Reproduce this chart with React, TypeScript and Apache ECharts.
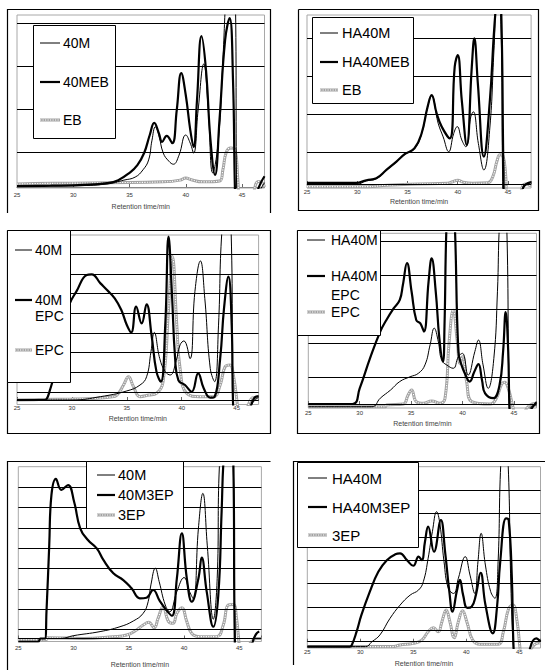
import React, { useEffect, useRef } from "react";
import * as echarts from "echarts";

type Pt = [number, number];

// ---- axis ----
const xTicks = [25, 30, 35, 40, 45];
const xAxisName = "Retention time/min";

// ---- Panel 1 : 40M / 40MEB / EB ----
const p1_40M: Pt[] = [[25,0.02],[30,0.03],[33,0.07],[34.5,0.16],[35.5,0.23],[36.2,0.4],[36.7,0.63],[37.0,1.09],[37.3,1.4],[37.6,1.21],[38.0,0.79],[38.5,0.6],[38.9,0.53],[39.4,0.74],[40.0,1.21],[40.4,1.02],[40.7,0.79],[41.1,1.79],[41.6,2.86],[42.0,1.79],[42.4,0.33],[42.9,1.09],[43.3,2.95],[43.6,4.6],[44.0,6],[44.4,4.6],[44.55,-0.5],[45,-1.5],[45.8,-1.5],[46.3,-0.3],[47,0.1]];
const p1_40MEB: Pt[] = [[25,0.02],[28,0.03],[31,0.05],[33,0.09],[34,0.16],[35,0.33],[35.7,0.51],[36.3,0.79],[36.8,1.21],[37.2,1.49],[37.6,1.26],[37.9,1.05],[38.3,1.19],[38.8,1.02],[39.2,1.79],[39.6,2.65],[40.0,2.14],[40.4,1.33],[40.7,0.93],[41.0,2.02],[41.4,3.51],[41.8,2.72],[42.2,1.09],[42.6,0.28],[43.0,1.56],[43.5,3.42],[43.9,3.93],[44.2,2.49],[44.4,-0.3],[44.6,-1],[45.5,-1],[46.1,-0.4],[46.5,0.0],[47,0.25]];
const p1_EB: Pt[] = [[25,0.07],[26.5,0.08],[30,0.09],[33,0.1],[38,0.12],[39.5,0.16],[40,0.21],[40.5,0.17],[41.5,0.12],[43,0.14],[43.3,0.4],[43.6,0.81],[44.0,0.91],[44.4,0.86],[44.6,0.28],[44.8,-0.5],[45.2,-1.5],[45.8,-0.6],[46.2,0.05],[46.5,0.13],[46.8,0.1],[47,0.0]];
const p1Gridlines = [0.81, 1.81, 2.81, 3.81];

// ---- Panel 2 : HA40M / HA40MEB / EB ----
const p2_HA40M: Pt[] = [[25,0.0],[30,0.0],[30.9,0.08],[31.9,0.14],[32.9,0.36],[33.9,0.58],[34.75,0.78],[35.7,0.93],[36.4,1.32],[37.0,2.02],[37.4,2.32],[38.05,1.6],[38.55,1.24],[39.1,0.85],[39.6,1.33],[39.95,1.51],[40.4,1.16],[40.8,0.98],[41.3,1.77],[41.55,1.9],[42.05,1.07],[42.6,0.37],[43.2,1.5],[43.6,3.5],[43.95,5.2],[44.3,4.2],[44.5,-0.3],[44.7,-1],[47.3,-1]];
const p2_HA40MEB: Pt[] = [[25,0.03],[29.9,0.03],[30.9,0.1],[31.9,0.15],[32.9,0.37],[33.9,0.59],[34.75,0.79],[35.7,0.94],[36.4,1.33],[37.0,2.03],[37.4,2.34],[37.9,1.86],[38.4,1.51],[39.2,1.2],[39.7,3.09],[40.0,3.39],[40.4,2.21],[40.9,1.03],[41.4,3.09],[41.65,3.83],[42.0,2.65],[42.6,0.72],[43.2,2.21],[43.6,3.97],[43.85,4.8],[44.1,5.3],[44.35,4.3],[44.55,0.3],[44.7,-1],[46,-1],[46.5,-0.1],[47.3,0.05]];
const p2_EB: Pt[] = [[25,-0.07],[31,-0.07],[33,-0.03],[36,0.0],[39,0.02],[39.5,0.06],[40,0.1],[40.5,0.05],[41.5,0.02],[43,0.03],[43.5,0.2],[43.9,0.6],[44.2,0.77],[44.5,0.74],[44.75,0.3],[44.95,-0.5],[45.5,-1],[46.2,-0.3],[46.7,0.0],[47.3,-0.05]];
const p2Gridlines = [0.84, 1.84, 2.84, 3.84];

// ---- Panel 3 : 40M / 40M EPC / EPC ----
const p3_40M: Pt[] = [[25,0.0],[30,0.0],[32.6,0.17],[35.0,0.46],[36.2,0.76],[36.8,1.18],[37.2,2.45],[37.5,3.43],[38.0,2.1],[38.5,1.44],[38.95,1.27],[39.5,2.0],[39.85,2.8],[40.2,3.0],[40.75,2.1],[41.2,5.5],[41.7,7.06],[42.1,5.16],[42.6,1.6],[43.0,0.93],[43.35,3.8],[43.65,8.5],[44.1,10.5],[44.5,8.5],[44.7,-0.6],[45,-1.5],[45.9,-1.5],[46.3,-0.3],[47,0.15]];
const p3_40MEPC: Pt[] = [[25,0.0],[27.5,0.0],[27.7,0.05],[28.0,0.5],[28.5,1.5],[29.0,2.9],[29.4,4.1],[29.8,4.9],[30.4,5.5],[31.35,6.35],[31.8,6.38],[32.6,5.92],[33.2,5.58],[33.9,5.16],[34.5,4.57],[35.0,3.81],[35.4,3.43],[35.85,4.74],[36.35,3.89],[36.8,4.86],[37.25,3.3],[37.7,1.44],[38.1,0.93],[38.5,3.8],[38.8,8.3],[39.1,5.5],[39.4,2.1],[39.7,1.0],[40.3,0.76],[40.9,0.42],[41.5,1.35],[42.0,0.6],[42.6,0.12],[43.0,0.17],[43.5,2.1],[43.85,4.65],[44.25,6.26],[44.55,3.8],[44.7,-0.6],[45,-1.5],[45.8,-1.5],[46.2,-0.5],[46.6,0.1],[47,0.2]];
const p3_EPC: Pt[] = [[25,0.0],[27,0.02],[30,0.05],[32,0.08],[33.5,0.15],[34.1,0.25],[34.7,0.76],[35.15,1.18],[35.6,0.68],[36.2,0.17],[37.0,0.25],[37.7,0.34],[38.3,0.93],[38.8,4.6],[39.15,7.28],[39.55,3.8],[39.85,1.6],[40.45,0.34],[41.65,0.17],[42.9,0.17],[43.5,0.76],[43.95,1.69],[44.4,1.78],[44.7,1.27],[45.07,-0.25],[45.3,-1.5],[45.7,-1],[46.1,-0.2],[46.5,0.12],[47,0.12]];
const p3Gridlines = [0.4, 1.4, 2.4, 3.4, 4.4, 5.4, 6.4, 7.4];

// ---- Panel 4 : HA40M / HA40M EPC / EPC ----
const p4_HA40M: Pt[] = [[25,-0.08],[31.2,-0.08],[32.0,0.17],[33.0,0.41],[33.9,0.66],[34.9,0.8],[35.7,0.9],[36.35,1.15],[36.85,1.74],[37.25,2.23],[37.65,1.83],[37.97,1.29],[38.45,1.15],[39.1,1.05],[39.6,1.39],[40.0,1.49],[40.55,0.85],[41.2,1.54],[41.55,1.88],[42.0,1.15],[42.5,0.46],[43.05,1.34],[43.4,3.3],[43.6,5.3],[43.95,6.5],[44.3,5.3],[44.55,-0.3],[44.8,-1.5],[46,-1.5],[46.6,-0.1],[47.2,-0.05]];
const p4_HA40MEPC: Pt[] = [[25,0.0],[29.3,0.0],[30.0,0.46],[31.0,1.34],[32.0,2.13],[32.6,2.47],[33.3,2.81],[33.9,3.06],[34.2,3.5],[34.6,4.14],[35.05,3.3],[35.5,2.47],[35.9,2.37],[36.25,2.13],[36.7,3.6],[37.0,4.28],[37.4,3.3],[37.75,1.93],[38.1,1.25],[38.25,2.3],[38.45,5.3],[38.85,7.5],[39.25,5.3],[39.6,1.54],[39.9,1.15],[40.3,0.85],[40.7,0.66],[41.15,0.95],[41.55,1.17],[41.9,0.7],[42.2,0.31],[43.0,0.17],[43.6,0.55],[43.95,1.54],[44.2,2.7],[44.45,1.54],[44.6,-0.25],[45,-1.5],[46,-1.5],[46.5,-0.3],[47.2,0.05]];
const p4_EPC: Pt[] = [[25,-0.08],[32.5,-0.08],[32.6,-0.03],[34.25,0.0],[34.7,0.26],[35.05,0.41],[35.5,0.07],[36.2,0.02],[37.0,0.09],[37.8,0.02],[38.3,0.17],[38.7,1.83],[39.1,2.76],[39.5,1.83],[39.75,1.2],[40.0,1.39],[40.4,0.66],[40.9,0.07],[42.7,0.0],[43.3,0.17],[43.8,0.58],[44.1,0.64],[44.45,0.46],[44.9,-0.08],[45.3,-0.6],[45.9,-0.3],[46.5,-0.05],[47.2,0.02]];
const p4Gridlines = [0.8, 1.8, 2.8, 3.8, 4.8];

// ---- Panel 5 : 40M / 40M3EP / 3EP ----
const p5_40M: Pt[] = [[25,0.0],[28.8,0.0],[30.0,0.14],[32.4,0.34],[34.2,0.58],[35.4,0.86],[36.3,1.24],[36.75,1.81],[37.0,2.64],[37.4,3.46],[37.75,2.8],[38.3,1.65],[38.7,1.32],[39.35,2.31],[40.0,3.0],[40.5,2.31],[40.85,1.95],[41.3,5.43],[41.7,7.15],[42.1,4.6],[42.65,0.95],[43.0,2.96],[43.2,8.5],[43.8,12],[44.45,8.5],[44.65,-0.5],[45,-1.5],[47,-1.5]];
const p5_40M3EP: Pt[] = [[25,-0.16],[26.8,-0.16],[27.0,0.0],[27.4,0.0],[27.55,1.32],[27.8,4.6],[28.0,7.07],[28.4,7.86],[28.9,7.32],[29.5,7.56],[30.05,6.74],[30.6,5.43],[31.3,4.85],[32.1,4.44],[32.7,3.87],[33.6,3.21],[34.5,2.88],[35.25,2.47],[36.0,1.98],[36.6,2.01],[37.2,2.39],[37.8,1.85],[38.4,1.4],[38.9,1.12],[39.35,2.96],[39.8,5.18],[40.25,2.96],[40.7,1.81],[41.3,2.96],[41.6,3.98],[42.05,2.31],[42.65,0.58],[43.1,2.14],[43.4,6.25],[43.6,9.0],[44.0,11],[44.45,9.0],[44.6,-0.3],[44.8,-1.5],[45.8,-1.5],[46.2,-0.2],[46.5,0.2],[46.8,0.35]];
const p5_3EP: Pt[] = [[25,-0.07],[27.5,-0.07],[27.6,0.04],[30.9,0.0],[33.6,0.09],[34.8,0.17],[35.7,0.42],[36.3,0.66],[36.8,0.8],[37.3,0.53],[37.65,0.99],[38.1,1.57],[38.6,0.83],[39.0,0.75],[39.35,1.24],[39.8,1.52],[40.25,0.83],[40.7,0.25],[41.45,0.09],[42.95,0.09],[43.55,0.66],[44.0,1.65],[44.45,1.68],[44.75,0.99],[45.0,-0.32],[45.3,-1.2],[45.8,-0.4],[46.3,-0.05],[46.6,0.0],[47,0.0]];
const p5Gridlines = [0.45, 1.45, 2.45, 3.45, 4.45, 5.45, 6.45, 7.45];

// ---- Panel 6 : HA40M / HA40M3EP / 3EP ----
const p6_HA40M: Pt[] = [[25,-0.21],[30.5,-0.21],[31.1,0.0],[31.85,0.29],[32.8,1.0],[33.75,1.57],[34.7,2.0],[35.5,2.22],[35.95,2.58],[36.4,3.58],[36.8,4.72],[37.2,5.58],[37.5,5.08],[37.9,3.43],[38.3,2.29],[38.8,2.07],[39.25,2.72],[39.9,3.65],[40.35,2.86],[40.8,2.07],[41.1,3.43],[41.4,4.65],[41.8,3.29],[42.3,2.15],[42.7,1.86],[43.0,3.43],[43.25,7.6],[43.6,9.5],[43.95,7.6],[44.2,2.5],[44.45,-0.3],[44.7,-1.5],[47,-1.5]];
const p6_HA40M3EP: Pt[] = [[25,-0.21],[29.0,-0.21],[29.2,-0.14],[29.65,0.43],[30.1,1.14],[30.9,2.15],[31.7,3.0],[32.5,3.5],[33.3,3.75],[33.75,3.79],[34.4,3.5],[35.0,3.26],[35.5,3.65],[35.8,3.5],[36.1,4.29],[36.4,4.94],[36.95,3.86],[37.6,5.22],[38.0,3.86],[38.4,2.15],[38.7,1.29],[39.1,2.15],[39.4,2.65],[39.7,2.0],[40.1,1.45],[40.5,1.5],[40.9,2.0],[41.35,2.96],[41.8,1.6],[42.5,0.36],[42.9,1.5],[43.2,3.43],[43.75,5.29],[44.0,5.22],[44.3,2.72],[44.45,-0.14],[44.7,-1.5],[45.7,-1.5],[46.0,-0.3],[46.6,0.14],[47,0.0]];
const p6_3EP: Pt[] = [[25,-0.21],[33,-0.21],[33.75,-0.14],[35.0,-0.07],[35.8,0.07],[36.4,0.43],[36.9,0.6],[37.35,0.43],[37.7,0.86],[38.1,1.36],[38.45,0.86],[38.85,0.17],[39.25,0.86],[39.65,1.33],[40.05,0.86],[40.6,0.07],[41.3,-0.11],[43.0,-0.11],[43.5,0.43],[44.0,1.43],[44.4,1.57],[44.75,1.0],[45.05,-0.21],[45.3,-1.2],[45.9,-0.5],[46.5,-0.1],[47,-0.05]];
const p6Gridlines = [0.5, 1.5, 2.5, 3.5, 4.5, 5.5, 6.5];

type Kind = "thin" | "thick" | "grey";

interface LegendItem { kind: Kind; lineY: number; labels: { text: string; y: number }[] }
interface Panel {
  grid: { left: number; top: number; width: number; height: number };
  xMax: number; yMin: number; yMax: number;
  gridlines: number[]; zeroLine: boolean;
  labelMargin: number; nameGap: number;
  series: { kind: Kind; name: string; data: Pt[] }[];
  frame: number[][];
  legend: { box: [number, number, number, number]; lineX: [number, number]; textX: number; fontSize: number; items: LegendItem[] };
}

const panels: Panel[] = [
  {
    grid: { left: 17, top: 15, width: 247.5, height: 173 },
    xMax: 47, yMin: -0.023, yMax: 4.0, gridlines: p1Gridlines, zeroLine: false,
    labelMargin: 4, nameGap: 15,
    series: [
      { kind: "grey", name: "EB", data: p1_EB },
      { kind: "thin", name: "40M", data: p1_40M },
      { kind: "thick", name: "40MEB", data: p1_40MEB },
    ],
    frame: [[7.5, 213], [7.5, 9.5], [270.5, 9.5], [270.5, 213]],
    legend: {
      box: [33, 25, 82, 113], lineX: [40, 60], textX: 63, fontSize: 14,
      items: [
        { kind: "thin", lineY: 43, labels: [{ text: "40M", y: 43 }] },
        { kind: "thick", lineY: 82, labels: [{ text: "40MEB", y: 82 }] },
        { kind: "grey", lineY: 120, labels: [{ text: "EB", y: 120 }] },
      ],
    },
  },
  {
    grid: { left: 307, top: 15, width: 224.1, height: 173 },
    xMax: 47.3, yMin: -0.105, yMax: 4.447, gridlines: p2Gridlines, zeroLine: true,
    labelMargin: 1, nameGap: 10,
    series: [
      { kind: "grey", name: "EB", data: p2_EB },
      { kind: "thin", name: "HA40M", data: p2_HA40M },
      { kind: "thick", name: "HA40MEB", data: p2_HA40MEB },
    ],
    frame: [[298.5, 9.5], [538.5, 9.5], [538.5, 210.5], [298.5, 210.5], [298.5, 9.5]],
    legend: {
      box: [312, 17, 101, 86], lineX: [320, 338], textX: 342, fontSize: 14.5,
      items: [
        { kind: "thin", lineY: 33, labels: [{ text: "HA40M", y: 33 }] },
        { kind: "thick", lineY: 62, labels: [{ text: "HA40MEB", y: 62 }] },
        { kind: "grey", lineY: 90, labels: [{ text: "EB", y: 90 }] },
      ],
    },
  },
  {
    grid: { left: 17, top: 235, width: 241.6, height: 169.5 },
    xMax: 47, yMin: -0.228, yMax: 8.376, gridlines: p3Gridlines, zeroLine: true,
    labelMargin: 0, nameGap: 10,
    series: [
      { kind: "grey", name: "EPC", data: p3_EPC },
      { kind: "thin", name: "40M", data: p3_40M },
      { kind: "thick", name: "40M EPC", data: p3_40MEPC },
    ],
    frame: [[7.5, 230.5], [270.5, 230.5], [270.5, 433.5], [7.5, 433.5], [7.5, 230.5]],
    legend: {
      box: [7, 230, 63, 152], lineX: [15, 32], textX: 35, fontSize: 14,
      items: [
        { kind: "thin", lineY: 250, labels: [{ text: "40M", y: 250 }] },
        { kind: "thick", lineY: 300, labels: [{ text: "40M", y: 300 }, { text: "EPC", y: 316 }] },
        { kind: "grey", lineY: 350, labels: [{ text: "EPC", y: 350 }] },
      ],
    },
  },
  {
    grid: { left: 308.3, top: 233.3, width: 228.2, height: 174.7 },
    xMax: 47.2, yMin: -0.118, yMax: 5.02, gridlines: p4Gridlines, zeroLine: true,
    labelMargin: 2, nameGap: 11.5,
    series: [
      { kind: "grey", name: "EPC", data: p4_EPC },
      { kind: "thin", name: "HA40M", data: p4_HA40M },
      { kind: "thick", name: "HA40M EPC", data: p4_HA40MEPC },
    ],
    frame: [[297.5, 230.5], [539.5, 230.5], [539.5, 433.5], [297.5, 433.5], [297.5, 230.5]],
    legend: {
      box: [297, 230, 83, 105], lineX: [307, 325], textX: 331, fontSize: 14,
      items: [
        { kind: "thin", lineY: 240, labels: [{ text: "HA40M", y: 240 }] },
        { kind: "thick", lineY: 276, labels: [{ text: "HA40M", y: 276 }, { text: "EPC", y: 295 }] },
        { kind: "grey", lineY: 312, labels: [{ text: "EPC", y: 312 }] },
      ],
    },
  },
  {
    grid: { left: 18.3, top: 466.7, width: 243.1, height: 174.8 },
    xMax: 47, yMin: -0.148, yMax: 8.463, gridlines: p5Gridlines, zeroLine: true,
    labelMargin: 3, nameGap: 19,
    series: [
      { kind: "grey", name: "3EP", data: p5_3EP },
      { kind: "thin", name: "40M", data: p5_40M },
      { kind: "thick", name: "40M3EP", data: p5_40M3EP },
    ],
    frame: [[7.5, 670], [7.5, 461.5], [270.5, 461.5]],
    legend: {
      box: [86, 461, 97, 67], lineX: [97, 115], textX: 118, fontSize: 14.5,
      items: [
        { kind: "thin", lineY: 475, labels: [{ text: "40M", y: 475 }] },
        { kind: "thick", lineY: 495, labels: [{ text: "40M3EP", y: 495 }] },
        { kind: "grey", lineY: 515, labels: [{ text: "3EP", y: 515 }] },
      ],
    },
  },
  {
    grid: { left: 307.3, top: 466.7, width: 233.2, height: 181.3 },
    xMax: 47, yMin: -0.27, yMax: 7.51, gridlines: p6Gridlines, zeroLine: true,
    labelMargin: 1, nameGap: 11.5,
    series: [
      { kind: "grey", name: "3EP", data: p6_3EP },
      { kind: "thin", name: "HA40M", data: p6_HA40M },
      { kind: "thick", name: "HA40M3EP", data: p6_HA40M3EP },
    ],
    frame: [[293.5, 665], [293.5, 461.5], [545, 461.5]],
    legend: {
      box: [297, 462, 121, 85], lineX: [308, 327], textX: 332, fontSize: 15,
      items: [
        { kind: "thin", lineY: 478, labels: [{ text: "HA40M", y: 478 }] },
        { kind: "thick", lineY: 507, labels: [{ text: "HA40M3EP", y: 507 }] },
        { kind: "grey", lineY: 535, labels: [{ text: "3EP", y: 535 }] },
      ],
    },
  },
];

const FONT = "'Liberation Sans', Arial, sans-serif";
const GREY_OUT = { color: "#a2a2a2", width: 3 };
const GREY_IN = { color: "#ffffff", width: 1.1, dash: [1.2, 1.3] };

function buildOption() {
  const grids: any[] = [];
  const xAxes: any[] = [];
  const yAxes: any[] = [];
  const series: any[] = [];
  const graphics: any[] = [];

  panels.forEach((p, i) => {
    grids.push({ ...p.grid, show: true, borderColor: "#a8a8a8", borderWidth: 1, backgroundColor: "transparent", containLabel: false, outerBoundsMode: "none" });
    xAxes.push({
      type: "value", gridIndex: i, min: 25, max: p.xMax, interval: 5,
      name: xAxisName, nameLocation: "middle", nameGap: p.nameGap,
      nameTextStyle: { fontSize: 7, color: "#444", fontFamily: FONT },
      axisLine: { show: true, lineStyle: { color: "#888", width: 1 } },
      axisTick: { show: true, inside: true, length: 3, lineStyle: { color: "#666" } },
      axisLabel: {
        fontSize: 6, color: "#333", fontFamily: FONT, margin: p.labelMargin,
        formatter: (v: number) => (xTicks.includes(Math.round(v * 1000) / 1000) ? String(v) : ""),
      },
      splitLine: { show: false },
    });
    yAxes.push({
      type: "value", gridIndex: i, min: p.yMin, max: p.yMax,
      axisLine: { show: false }, axisTick: { show: false }, axisLabel: { show: false }, splitLine: { show: false },
    });

    const markData: any[] = p.gridlines.map((v) => ({ yAxis: v }));
    if (p.zeroLine) markData.push({ yAxis: 0 });

    p.series.forEach((s, j) => {
      const base = {
        type: "line", xAxisIndex: i, yAxisIndex: i, data: s.data, showSymbol: false, symbol: "none",
        smooth: 0.45, silent: true, animation: false, emphasis: { disabled: true }, clip: true,
      };
      if (s.kind === "grey") {
        series.push({
          ...base, name: s.name, z: 2,
          lineStyle: { color: GREY_OUT.color, width: GREY_OUT.width },
          markLine: j === 0 ? {
            silent: true, symbol: ["none", "none"], label: { show: false }, animation: false,
            lineStyle: { color: "#000", width: 1, type: "solid" }, emphasis: { disabled: true },
            data: markData,
          } : undefined,
        });
        series.push({ ...base, name: s.name + " ", z: 2, lineStyle: { color: GREY_IN.color, width: GREY_IN.width, type: GREY_IN.dash } });
      } else if (s.kind === "thin") {
        series.push({ ...base, name: s.name, z: 3, lineStyle: { color: "#000", width: 1 } });
      } else {
        series.push({ ...base, name: s.name, z: 4, lineStyle: { color: "#000", width: 2.2 } });
      }
    });

    graphics.push({ type: "polyline", shape: { points: p.frame }, style: { fill: "none", stroke: "#000", lineWidth: 1.2 }, z: 50, silent: true });

    const lg = p.legend;
    graphics.push({ type: "rect", shape: { x: lg.box[0] + 0.5, y: lg.box[1] + 0.5, width: lg.box[2], height: lg.box[3] }, style: { fill: "#fff", stroke: "#000", lineWidth: 1 }, z: 100, silent: true });
    lg.items.forEach((it) => {
      const shape = { x1: lg.lineX[0], y1: it.lineY, x2: lg.lineX[1], y2: it.lineY };
      if (it.kind === "grey") {
        graphics.push({ type: "line", shape, style: { stroke: GREY_OUT.color, lineWidth: GREY_OUT.width }, z: 101, silent: true });
        graphics.push({ type: "line", shape, style: { stroke: GREY_IN.color, lineWidth: GREY_IN.width, lineDash: GREY_IN.dash }, z: 102, silent: true });
      } else {
        graphics.push({ type: "line", shape, style: { stroke: "#000", lineWidth: it.kind === "thick" ? 2.2 : 1 }, z: 101, silent: true });
      }
      it.labels.forEach((lb) => {
        graphics.push({
          type: "text", x: lg.textX, y: lb.y, z: 102, silent: true,
          style: { text: lb.text, fontSize: lg.fontSize, fontFamily: FONT, fill: "#000", align: "left", verticalAlign: "middle", textAlign: "left", textVerticalAlign: "middle" },
        });
      });
    });
  });

  return {
    animation: false,
    backgroundColor: "#fff",
    grid: grids,
    xAxis: xAxes,
    yAxis: yAxes,
    series,
    graphic: { elements: graphics },
  };
}

export default function App() {
  const ref = useRef<HTMLDivElement>(null);
  useEffect(() => {
    if (!ref.current) return;
    const chart = echarts.init(ref.current, undefined, { renderer: "svg", width: 545, height: 670 });
    chart.setOption(buildOption() as any);
    return () => chart.dispose();
  }, []);
  return <div ref={ref} style={{ position: "absolute", left: 0, top: 0, width: 545, height: 670, background: "#fff" }} />;
}
